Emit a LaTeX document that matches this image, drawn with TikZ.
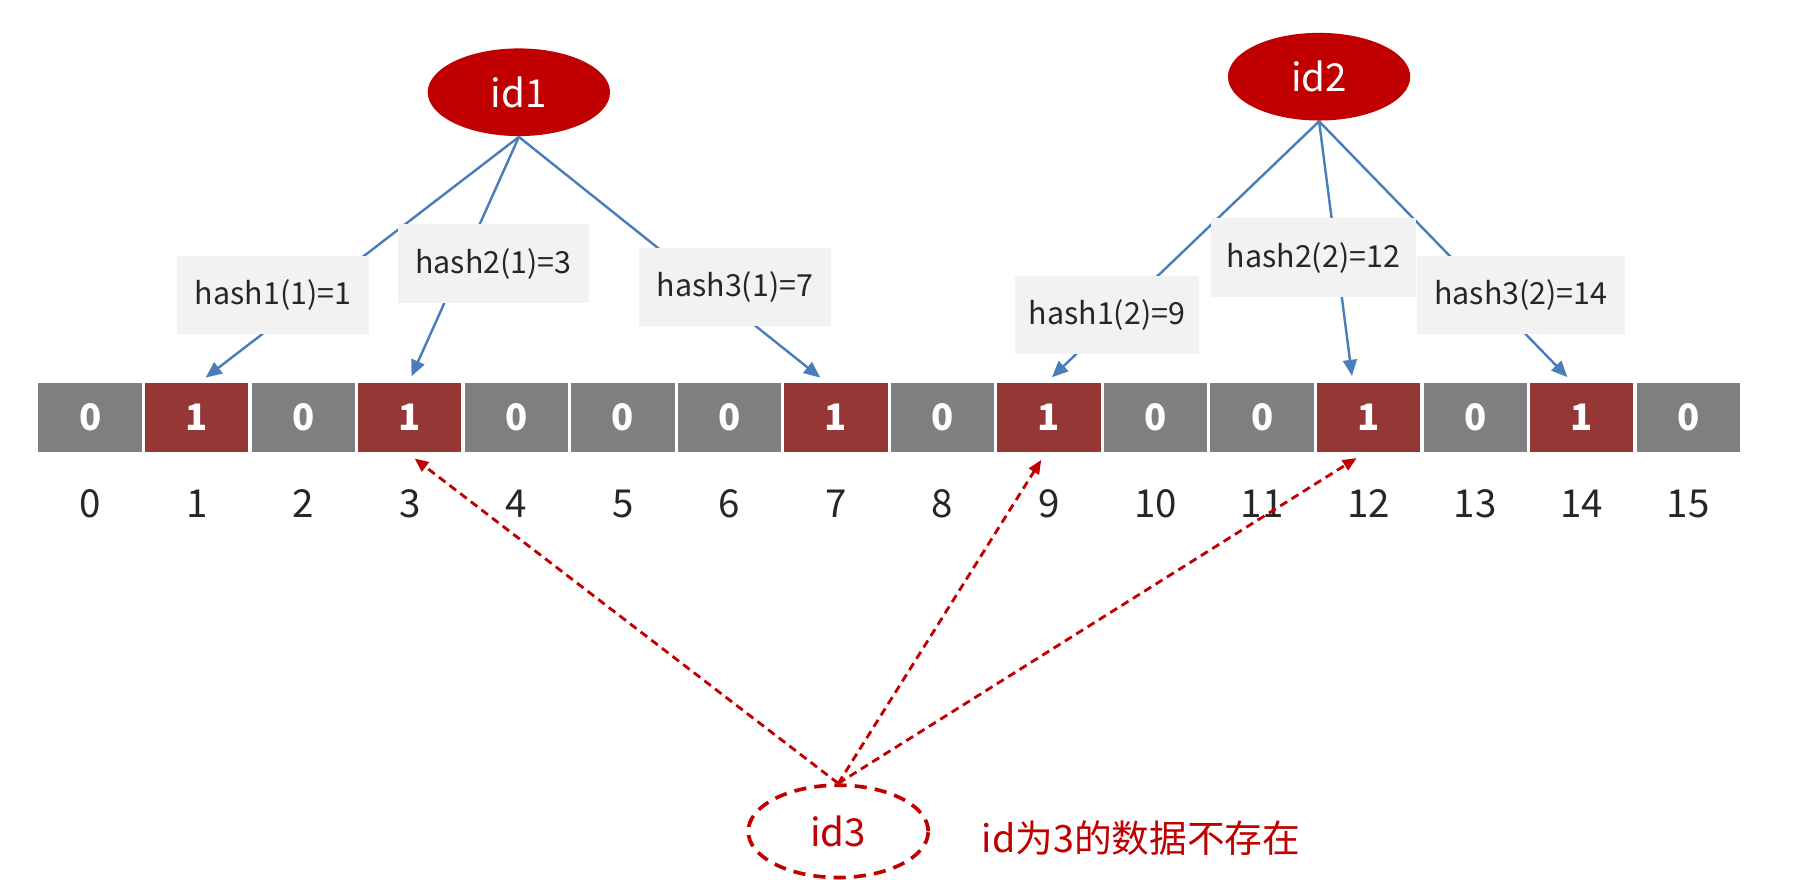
\documentclass[tikz,border=0pt]{standalone}
\usepackage{fontspec}
\setmainfont{Noto Sans CJK SC}
\usepackage{tikz}
\usetikzlibrary{arrows.meta}
\usetikzlibrary{shapes.geometric,positioning}
\definecolor{cellgray}{HTML}{7F7F7F}
\definecolor{cellred}{HTML}{953735}
\definecolor{idred}{HTML}{C00000}
\definecolor{boxgray}{HTML}{F2F2F2}
\definecolor{lineblue}{HTML}{4A7EBB}
\definecolor{numgray}{HTML}{262626}

\tikzset{
  cell/.style={rectangle, minimum width=0.924cm, minimum height=0.62cm, inner sep=0pt,
    draw=white, line width=0.8pt, text=white, font=\fontsize{9}{10}\selectfont\bfseries},
  cell0/.style={cell, fill=cellgray},
  cell1/.style={cell, fill=cellred},
  idnode/.style={ellipse, fill=idred, text=white, minimum width=1.58cm, minimum height=0.76cm,
    inner sep=0pt, font=\fontsize{9.5}{11}\selectfont},
  hashbox/.style={rectangle, fill=boxgray, minimum height=0.68cm, inner sep=0pt,
    text=numgray, font=\fontsize{7.5}{9}\selectfont},
  hasharrow/.style={draw=lineblue, line width=0.6pt, shorten >=1pt,
    -{Triangle[length=0.14cm,width=0.12cm]}},
  checkarrow/.style={draw=idred, line width=0.7pt, dash pattern=on 2pt off 1.3pt, shorten >=1.5pt,
    -{Triangle[length=0.12cm,width=0.1cm]}},
}

\begin{document}
\begin{tikzpicture}[x=0.01cm, y=-0.01cm]
  \useasboundingbox (0,0) rectangle (1568,763);

  % bit array and its indices
  \foreach \i/\v in {0/0,1/1,2/0,3/1,4/0,5/0,6/0,7/1,8/0,9/1,10/0,11/0,12/1,13/0,14/1,15/0}{
    \node[cell\v] (c\i) at (78.2+92.4*\i,362) {\v};
    \node[text=numgray, font=\fontsize{9.5}{11}\selectfont] (n\i) at (78.2+92.4*\i,437) {\i};
  }

  \node[idnode] (id1) at (450,80) {id1};
  \node[idnode] (id2) at (1144,66.5) {id2};

  \draw[hasharrow] (id1.south) -- ([xshift=0.05cm]c1.north);
  \draw[hasharrow] (id1.south) -- (c3.north);
  \draw[hasharrow] (id1.south) -- ([xshift=-0.11cm]c7.north);
  \draw[hasharrow] (id2.south) -- (c9.north);
  \draw[hasharrow] (id2.south) -- ([xshift=-0.14cm]c12.north);
  \draw[hasharrow] (id2.south) -- ([xshift=-0.1cm]c14.north);

  \node[hashbox, minimum width=1.67cm] (h11) at (236.8,256) {hash1(1)=1};
  \node[hashbox, minimum width=1.65cm] (h21) at (428,228.6) {hash2(1)=3};
  \node[hashbox, minimum width=1.66cm] (h31) at (637.4,248.8) {hash3(1)=7};
  \node[hashbox, minimum width=1.60cm] (h12) at (960,273) {hash1(2)=9};
  \node[hashbox, minimum width=1.78cm] (h22) at (1139,223.5) {hash2(2)=12};
  \node[hashbox, minimum width=1.80cm] (h32) at (1319,256) {hash3(2)=14};

  % the lookup that fails
  \node[ellipse, draw=idred, line width=0.9pt, dash pattern=on 3pt off 2pt, text=idred,
    minimum width=1.56cm, minimum height=0.8cm, inner sep=0pt,
    font=\fontsize{9.5}{11}\selectfont] (id3) at (727,721) {id3};
  \node[anchor=west, text=idred, font=\fontsize{9.3}{11}\selectfont] (msg) at (839,727) {id为3的数据不存在};

  \draw[checkarrow] (id3.north) -- (c3.south);
  \draw[checkarrow] (id3.north) -- ([xshift=-0.04cm]c9.south);
  \draw[checkarrow] (id3.north) -- ([xshift=-0.06cm]c12.south);
\end{tikzpicture}
\end{document}
